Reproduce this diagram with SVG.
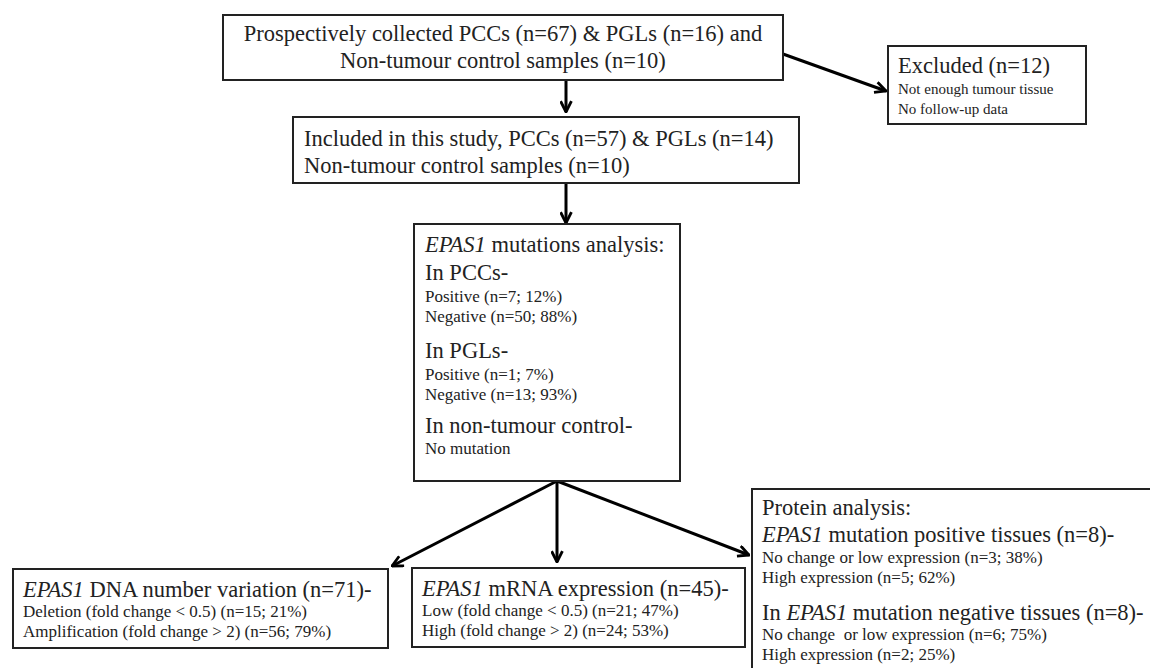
<svg xmlns="http://www.w3.org/2000/svg" width="1150" height="668" viewBox="0 0 1150 668">
<defs>
<marker id="ah" viewBox="0 0 12 12" refX="11" refY="6" markerWidth="13" markerHeight="13" markerUnits="userSpaceOnUse" orient="auto">
<path d="M1,1 L11,6 L1,11" fill="none" stroke="#000" stroke-width="2.6"/>
</marker>
<style>
.box{fill:#fff;stroke:#222;stroke-width:2}
.big{font-family:"Liberation Serif","Times New Roman",serif;font-size:22.5px;fill:#222}
.sm{font-family:"Liberation Serif","Times New Roman",serif;font-size:17px;fill:#222}
.xs{font-family:"Liberation Serif","Times New Roman",serif;font-size:15px;fill:#222}
.conn{stroke:#000;stroke-width:3;fill:none;marker-end:url(#ah)}
</style>
</defs>
<rect width="1150" height="668" fill="#fff"/>
<g id="connectors">
<line class="conn" x1="566" y1="80" x2="566" y2="112"/>
<line class="conn" x1="783" y1="54" x2="886" y2="91"/>
<line class="conn" x1="566" y1="183" x2="566" y2="223"/>
<line class="conn" x1="557" y1="481" x2="392" y2="566"/>
<line class="conn" x1="557" y1="481" x2="557" y2="562"/>
<line class="conn" x1="557" y1="481" x2="749" y2="555"/>
</g>
<g id="n-collected">
<rect class="box" x="223" y="15" width="560" height="65"/>
<text class="big" x="503" y="41" text-anchor="middle">Prospectively collected PCCs (n=67) &amp; PGLs (n=16) and</text>
<text class="big" x="503" y="68" text-anchor="middle">Non-tumour control samples (n=10)</text>
</g>
<g id="n-excluded">
<rect class="box" x="888" y="46" width="198" height="78"/>
<text class="big" x="898" y="73">Excluded (n=12)</text>
<text class="xs" x="898" y="94">Not enough tumour tissue</text>
<text class="xs" x="898" y="114">No follow-up data</text>
</g>
<g id="n-included">
<rect class="box" x="293" y="117" width="506" height="66"/>
<text class="big" x="304" y="146">Included in this study, PCCs (n=57) &amp; PGLs (n=14)</text>
<text class="big" x="304" y="173">Non-tumour control samples (n=10)</text>
</g>
<g id="n-mutation">
<rect class="box" x="414" y="224" width="266" height="257"/>
<text class="big" x="425" y="252"><tspan font-style="italic">EPAS1</tspan> mutations analysis:</text>
<text class="big" x="425" y="280">In PCCs-</text>
<text class="sm" x="425" y="302">Positive (n=7; 12%)</text>
<text class="sm" x="425" y="322">Negative (n=50; 88%)</text>
<text class="big" x="425" y="358">In PGLs-</text>
<text class="sm" x="425" y="380">Positive (n=1; 7%)</text>
<text class="sm" x="425" y="400">Negative (n=13; 93%)</text>
<text class="big" x="425" y="433">In non-tumour control-</text>
<text class="sm" x="425" y="454">No mutation</text>
</g>
<g id="n-dna">
<rect class="box" x="13" y="569" width="375" height="79"/>
<text class="big" x="23" y="597"><tspan font-style="italic">EPAS1</tspan> DNA number variation (n=71)-</text>
<text class="sm" x="23" y="617">Deletion (fold change &lt; 0.5) (n=15; 21%)</text>
<text class="sm" x="23" y="637">Amplification (fold change &gt; 2) (n=56; 79%)</text>
</g>
<g id="n-mrna">
<rect class="box" x="412" y="568" width="333" height="79"/>
<text class="big" x="422" y="596"><tspan font-style="italic">EPAS1</tspan> mRNA expression (n=45)-</text>
<text class="sm" x="422" y="616">Low (fold change &lt; 0.5) (n=21; 47%)</text>
<text class="sm" x="422" y="636">High (fold change &gt; 2) (n=24; 53%)</text>
</g>
<g id="n-protein">
<path d="M752,670 L752,489 L1152,489" fill="#fff" stroke="#222" stroke-width="2"/>
<text class="big" x="762" y="515">Protein analysis:</text>
<text class="big" x="762" y="542"><tspan font-style="italic">EPAS1</tspan> mutation positive tissues (n=8)-</text>
<text class="sm" x="762" y="563">No change or low expression (n=3; 38%)</text>
<text class="sm" x="762" y="583">High expression (n=5; 62%)</text>
<text class="big" x="762" y="620">In <tspan font-style="italic">EPAS1</tspan> mutation negative tissues (n=8)-</text>
<text class="sm" x="762" y="640" xml:space="preserve">No change  or low expression (n=6; 75%)</text>
<text class="sm" x="762" y="660">High expression (n=2; 25%)</text>
</g>
</svg>
